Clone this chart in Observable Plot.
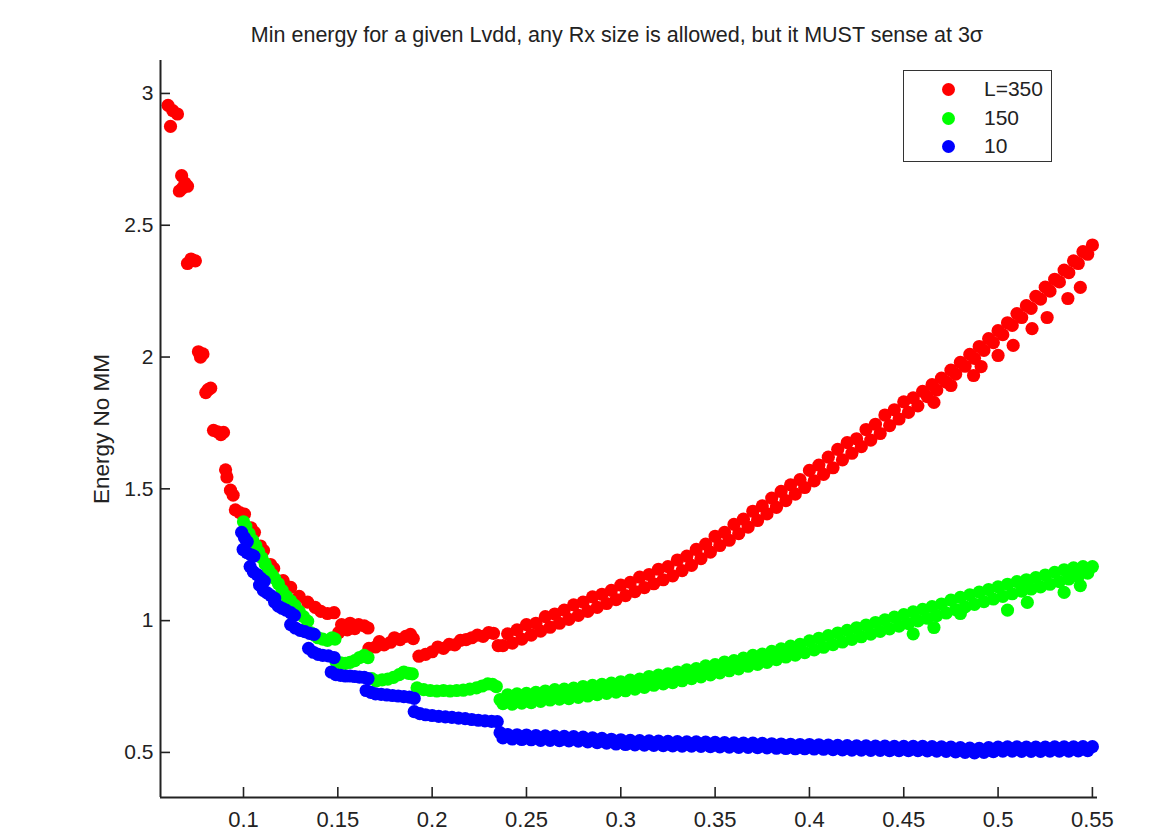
<!DOCTYPE html>
<html><head><meta charset="utf-8">
<script src="https://cdn.jsdelivr.net/npm/d3@7"></script>
<script src="https://cdn.jsdelivr.net/npm/@observablehq/plot@0.6"></script>
<style>
body{margin:0;background:#fff;}
#wrap{position:relative;width:1161px;height:832px;font-family:"Liberation Sans",Arial,sans-serif;color:#222;}
#legend{position:absolute;left:903px;top:70px;width:149px;height:92px;border:1.6px solid #333;background:#fff;box-sizing:border-box;}
.row{position:absolute;left:0;height:0;}
.dot{position:absolute;left:38px;top:-6.5px;width:13px;height:13px;border-radius:50%;}
.lab{position:absolute;left:80px;top:-13px;font-size:21px;line-height:26px;white-space:nowrap;}
</style>
</head><body>
<div id="wrap"><div id="chart"></div><div id="legend"></div></div>
<script>
const titleText = "Min energy for a given Lvdd, any Rx size is allowed, but it MUST sense at 3σ";
const yLabel = "Energy No MM";
const xTicks = [0.1,0.15,0.2,0.25,0.3,0.35,0.4,0.45,0.5,0.55];
const yTicks = [0.5,1,1.5,2,2.5,3];
const legendLabels = ["L=350","150","10"];
const seriesColors = ["#ff0000","#00ff00","#0000ff"];

const l350 = [
[0.0600,2.955],[0.0625,2.935],[0.0650,2.922],[0.0613,2.875],
[0.0672,2.688],[0.0690,2.66],[0.0703,2.648],[0.0660,2.63],[0.0675,2.64],
[0.0703,2.355],[0.0722,2.372],[0.0745,2.365],
[0.0761,2.02],[0.0772,2.0],[0.0785,2.012],
[0.0800,1.865],[0.0812,1.876],[0.0826,1.882],
[0.0841,1.722],[0.0862,1.716],[0.0880,1.706],[0.0894,1.714],
[0.0905,1.572],[0.0912,1.545],
[0.0931,1.495],[0.0945,1.476],
[0.0957,1.42],[0.0980,1.41],[0.1005,1.404],
[0.1040,1.352],[0.1058,1.335],[0.1090,1.283],[0.1106,1.266],[0.1143,1.213],[0.1160,1.198],[0.1210,1.152],[0.1250,1.126],[0.1295,1.092],[0.1340,1.07],[0.1380,1.05],[0.1410,1.035],[0.1445,1.027],[0.1480,1.03],
[0.1505,0.955],[0.1520,0.985],[0.1550,0.965],[0.1565,0.99],[0.1590,0.97],[0.1610,0.985],[0.1640,0.98],[0.1660,0.972],
[0.1665,0.895],[0.1700,0.9],[0.1720,0.92],[0.1745,0.908],[0.1780,0.918],[0.1800,0.935],[0.1830,0.928],[0.1860,0.94],[0.1885,0.948],[0.1900,0.932],
[0.1930,0.865],[0.1965,0.872],[0.2000,0.882],[0.2030,0.9],[0.2060,0.895],[0.2090,0.91],[0.2120,0.908],[0.2150,0.925],[0.2180,0.928],[0.2210,0.935],[0.2240,0.945],[0.2270,0.94],[0.2300,0.955],[0.2325,0.952],
[0.240,0.95],[0.245,0.965],[0.250,0.985],[0.255,0.99],[0.260,1.015],[0.265,1.025],[0.270,1.04],[0.275,1.06],[0.280,1.07],[0.285,1.09],[0.290,1.10],[0.295,1.115],[0.300,1.135],[0.305,1.145],[0.310,1.165],[0.315,1.175],[0.320,1.195],[0.325,1.205],[0.330,1.23],[0.335,1.245],[0.340,1.27],[0.345,1.29],[0.350,1.32],[0.355,1.335],[0.360,1.365],[0.365,1.385],[0.370,1.415],[0.375,1.435],[0.380,1.465],[0.385,1.49],[0.390,1.515],[0.395,1.535],[0.400,1.57],[0.405,1.59],[0.410,1.62],[0.415,1.65],[0.420,1.675],[0.425,1.69],[0.430,1.725],[0.435,1.745],[0.440,1.78],[0.445,1.80],[0.450,1.83],[0.455,1.845],[0.460,1.87],[0.465,1.895],[0.470,1.92],[0.475,1.95],[0.480,1.98],[0.485,2.01],[0.490,2.04],[0.495,2.07],[0.500,2.10],[0.505,2.13],[0.510,2.165],[0.515,2.195],[0.520,2.23],[0.525,2.265],[0.530,2.295],[0.535,2.33],[0.540,2.365],[0.545,2.40],[0.550,2.425],
[0.235,0.905],[0.2375,0.905],[0.2425,0.915],[0.2475,0.93],[0.2525,0.945],[0.2575,0.96],[0.2625,0.975],[0.2675,0.99],[0.2725,1.005],[0.2775,1.02],[0.2825,1.035],[0.2875,1.05],[0.2925,1.065],[0.2975,1.08],[0.3025,1.095],[0.3075,1.11],[0.3125,1.125],[0.3175,1.14],[0.3225,1.155],[0.3275,1.17],[0.3325,1.19],[0.3375,1.21],[0.3425,1.235],[0.3475,1.26],[0.3525,1.285],[0.3575,1.305],[0.3625,1.33],[0.3675,1.355],[0.3725,1.38],[0.3775,1.405],[0.3825,1.43],[0.3875,1.455],[0.3925,1.48],[0.3975,1.505],[0.4025,1.53],[0.4075,1.555],[0.4125,1.58],[0.4175,1.61],[0.4225,1.635],[0.4275,1.66],[0.4325,1.685],[0.4375,1.71],[0.4425,1.74],[0.4475,1.765],[0.4525,1.79],[0.4575,1.815],[0.4625,1.85],[0.4675,1.875],[0.4725,1.905],[0.4775,1.935],[0.4825,1.965],[0.4875,1.995],[0.4925,2.025],[0.4975,2.055],[0.5025,2.085],[0.5075,2.12],[0.5125,2.15],[0.5175,2.185],[0.5225,2.22],[0.5275,2.25],[0.5325,2.285],[0.5375,2.32],[0.5425,2.355],[0.5475,2.39],
[0.466,1.828],[0.475,1.892],[0.487,1.93],[0.491,1.964],[0.500,2.006],[0.508,2.044],[0.518,2.108],[0.526,2.15],[0.537,2.222],[0.5436,2.264]
];

const l150 = [
[0.1000,1.375],[0.1012,1.358],[0.1030,1.33],[0.1048,1.305],[0.1065,1.285],[0.1080,1.262],[0.1098,1.238],[0.1115,1.215],[0.1133,1.192],[0.1150,1.175],[0.1165,1.16],[0.1185,1.14],[0.1205,1.115],[0.1228,1.092],[0.1250,1.075],[0.1272,1.058],[0.1295,1.035],[0.1318,1.015],[0.1340,0.998],
[0.1355,0.955],[0.1375,0.945],[0.1395,0.935],[0.1420,0.93],[0.1445,0.925],[0.1470,0.935],[0.1485,0.93],
[0.1490,0.845],[0.1515,0.84],[0.1540,0.838],[0.1565,0.842],[0.1590,0.848],[0.1615,0.86],[0.1640,0.868],[0.1660,0.86],
[0.1680,0.78],[0.1705,0.772],[0.1735,0.775],[0.1765,0.778],[0.1795,0.785],[0.1825,0.795],[0.1850,0.805],[0.1875,0.80],[0.1895,0.798],
[0.1920,0.745],[0.1955,0.738],[0.1990,0.735],[0.2025,0.733],[0.2060,0.735],[0.2095,0.733],[0.2130,0.735],[0.2165,0.736],[0.2200,0.74],[0.2235,0.745],[0.2265,0.752],[0.2295,0.76],[0.2320,0.758],[0.2340,0.75],
[0.240,0.718],[0.245,0.722],[0.250,0.724],[0.255,0.728],[0.260,0.733],[0.265,0.738],[0.270,0.74],[0.275,0.744],[0.280,0.75],[0.285,0.754],[0.290,0.758],[0.295,0.763],[0.300,0.768],[0.305,0.774],[0.310,0.778],[0.315,0.788],[0.320,0.793],[0.325,0.798],[0.330,0.805],[0.335,0.813],[0.340,0.818],[0.345,0.828],[0.350,0.833],[0.355,0.843],[0.360,0.848],[0.365,0.858],[0.370,0.868],[0.375,0.873],[0.380,0.883],[0.385,0.893],[0.390,0.903],[0.395,0.91],[0.400,0.923],[0.405,0.933],[0.410,0.943],[0.415,0.953],[0.420,0.963],[0.425,0.973],[0.430,0.983],[0.435,0.993],[0.440,1.003],[0.445,1.013],[0.450,1.023],[0.455,1.033],[0.460,1.043],[0.465,1.053],[0.470,1.063],[0.475,1.078],[0.480,1.088],[0.485,1.098],[0.490,1.108],[0.495,1.118],[0.500,1.128],[0.505,1.138],[0.510,1.148],[0.515,1.155],[0.520,1.163],[0.525,1.173],[0.530,1.183],[0.535,1.193],[0.540,1.2],[0.545,1.205],[0.550,1.205],
[0.236,0.70],[0.2375,0.685],[0.2425,0.683],[0.2475,0.687],[0.2525,0.689],[0.2575,0.694],[0.2625,0.699],[0.2675,0.702],[0.2725,0.704],[0.2775,0.709],[0.2825,0.714],[0.2875,0.719],[0.2925,0.724],[0.2975,0.729],[0.3025,0.734],[0.3075,0.74],[0.3125,0.747],[0.3175,0.755],[0.3225,0.76],[0.3275,0.765],[0.3325,0.772],[0.3375,0.78],[0.3425,0.787],[0.3475,0.794],[0.3525,0.802],[0.3575,0.81],[0.3625,0.817],[0.3675,0.827],[0.3725,0.834],[0.3775,0.842],[0.3825,0.852],[0.3875,0.862],[0.3925,0.869],[0.3975,0.879],[0.4025,0.889],[0.4075,0.899],[0.4125,0.909],[0.4175,0.919],[0.4225,0.929],[0.4275,0.939],[0.4325,0.949],[0.4375,0.959],[0.4425,0.969],[0.4475,0.979],[0.4525,0.989],[0.4575,0.999],[0.4625,1.009],[0.4675,1.019],[0.4725,1.029],[0.4775,1.042],[0.4825,1.052],[0.4875,1.062],[0.4925,1.072],[0.4975,1.082],[0.5025,1.092],[0.5075,1.102],[0.5125,1.112],[0.5175,1.12],[0.5225,1.128],[0.5275,1.138],[0.5325,1.148],[0.5375,1.158],[0.5425,1.168],[0.5475,1.18],
[0.455,0.95],[0.466,0.974],[0.480,1.027],[0.505,1.04],[0.5155,1.069],[0.535,1.107],[0.5436,1.133]
];

const l10 = [
[0.0990,1.335],[0.1005,1.315],[0.1020,1.30],[0.0998,1.27],[0.1018,1.258],[0.1040,1.25],[0.1055,1.245],
[0.1035,1.205],[0.1052,1.185],[0.1072,1.175],[0.1092,1.16],[0.1110,1.15],
[0.1085,1.135],[0.1105,1.115],[0.1125,1.105],[0.1145,1.095],[0.1165,1.085],
[0.1165,1.07],[0.1185,1.055],[0.1205,1.047],[0.1225,1.04],[0.1250,1.03],[0.1270,1.02],
[0.1250,0.985],[0.1275,0.972],[0.1300,0.963],[0.1325,0.958],[0.1350,0.952],[0.1375,0.948],
[0.1345,0.895],[0.1370,0.88],[0.1395,0.872],[0.1420,0.868],[0.1450,0.866],[0.1480,0.86],
[0.1465,0.805],[0.1490,0.795],[0.1515,0.792],[0.1540,0.79],[0.1565,0.79],[0.1590,0.788],[0.1615,0.786],[0.1640,0.785],[0.1660,0.78],
[0.1650,0.735],[0.1675,0.728],[0.1700,0.722],[0.1730,0.72],[0.1760,0.718],[0.1790,0.716],[0.1820,0.714],[0.1850,0.712],[0.1880,0.71],[0.1905,0.705],
[0.1905,0.655],[0.1935,0.647],[0.1965,0.643],[0.2000,0.64],[0.2035,0.637],[0.2070,0.635],[0.2105,0.633],[0.2140,0.63],[0.2175,0.628],[0.2210,0.625],[0.2245,0.622],[0.2280,0.62],[0.2315,0.618],[0.2345,0.617],
[0.236,0.575],[0.240,0.568],[0.245,0.567],[0.250,0.566],[0.255,0.564],[0.260,0.563],[0.265,0.562],[0.270,0.561],[0.275,0.56],[0.280,0.558],[0.285,0.555],[0.290,0.553],[0.295,0.55],[0.300,0.548],[0.305,0.546],[0.310,0.545],[0.315,0.544],[0.320,0.543],[0.325,0.542],[0.330,0.541],[0.335,0.54],[0.340,0.54],[0.345,0.539],[0.350,0.538],[0.355,0.537],[0.360,0.536],[0.365,0.535],[0.370,0.535],[0.375,0.534],[0.380,0.533],[0.385,0.532],[0.390,0.531],[0.395,0.53],[0.400,0.53],[0.405,0.529],[0.410,0.528],[0.415,0.527],[0.420,0.526],[0.425,0.525],[0.430,0.525],[0.435,0.524],[0.440,0.524],[0.445,0.523],[0.450,0.523],[0.455,0.523],[0.460,0.523],[0.465,0.522],[0.470,0.521],[0.475,0.52],[0.480,0.518],[0.485,0.516],[0.490,0.515],[0.495,0.518],[0.500,0.52],[0.505,0.521],[0.510,0.521],[0.515,0.52],[0.520,0.52],[0.525,0.52],[0.530,0.521],[0.535,0.521],[0.540,0.521],[0.545,0.522],[0.550,0.522],
[0.2375,0.555],[0.2425,0.551],[0.2475,0.549],[0.2525,0.548],[0.2575,0.546],[0.2625,0.546],[0.2675,0.545],[0.2725,0.544],[0.2775,0.543],[0.2825,0.54],[0.2875,0.537],[0.2925,0.535],[0.2975,0.532],[0.3025,0.53],[0.3075,0.529],[0.3125,0.528],[0.3175,0.527],[0.3225,0.526],[0.3275,0.525],[0.3325,0.524],[0.3375,0.524],[0.3425,0.523],[0.3475,0.522],[0.3525,0.521],[0.3575,0.52],[0.3625,0.519],[0.3675,0.519],[0.3725,0.518],[0.3775,0.517],[0.3825,0.516],[0.3875,0.515],[0.3925,0.514],[0.3975,0.514],[0.4025,0.513],[0.4075,0.512],[0.4125,0.511],[0.4175,0.51],[0.4225,0.509],[0.4275,0.509],[0.4325,0.508],[0.4375,0.508],[0.4425,0.507],[0.4475,0.507],[0.4525,0.507],[0.4575,0.507],[0.4625,0.506],[0.4675,0.505],[0.4725,0.504],[0.4775,0.502],[0.4825,0.5],[0.4875,0.498],[0.4925,0.5],[0.4975,0.503],[0.5025,0.505],[0.5075,0.505],[0.5125,0.504],[0.5175,0.504],[0.5225,0.504],[0.5275,0.505],[0.5325,0.505],[0.5375,0.505],[0.5425,0.506],[0.5475,0.507]
];

const seriesPoints = [l350, l150, l10];

const W = 1161, H = 832;
const mTop = 60, mRight = 64, mBottom = 35, mLeft = 160;
const frameW = W - mLeft - mRight, frameH = H - mTop - mBottom;
const xDomain = [0.056, 0.5527];
const yDomain = [0.329, 3.125];
const ink = "#222";

const dotMarks = seriesPoints.map((pts, i) =>
  Plot.dot(pts, {x: d => d[0], y: d => d[1], r: 6.6, fill: seriesColors[i], stroke: "none"})
);

const chart = Plot.plot({
  width: W, height: H,
  marginTop: mTop, marginRight: mRight, marginBottom: mBottom, marginLeft: mLeft,
  x: {domain: xDomain},
  y: {domain: yDomain},
  style: {fontFamily: '"Liberation Sans", Arial, sans-serif', fontSize: "21px", background: "#fff", color: ink},
  marks: [
    ...dotMarks,
    Plot.ruleX([xDomain[0]], {stroke: ink, strokeWidth: 2}),
    Plot.ruleY([yDomain[0]], {stroke: ink, strokeWidth: 2}),
    Plot.ruleX(xTicks, {x: d => d, stroke: ink, strokeWidth: 1.6, insetTop: frameH - 10}),
    Plot.ruleY(yTicks, {y: d => d, stroke: ink, strokeWidth: 1.6, insetRight: frameW - 10}),
    Plot.axisX({ticks: xTicks, tickSize: 0, tickPadding: 14, tickFormat: d => String(d), label: null, fill: ink, fontSize: 22}),
    Plot.axisY({ticks: yTicks, tickSize: 0, tickPadding: 7, tickFormat: d => String(d), label: null, fill: ink, fontSize: 21}),
    Plot.text([yLabel], {text: d => d, frameAnchor: "left", textAnchor: "middle", dx: -59, rotate: -90, fontSize: 22.5, fill: ink}),
    Plot.text([titleText], {text: d => d, frameAnchor: "top", textAnchor: "middle", dx: -12, dy: -34, fontSize: 21.5, fill: ink})
  ]
});
document.getElementById("chart").appendChild(chart);

const legend = document.getElementById("legend");
const rowTops = [18, 47, 75];
legendLabels.forEach((lab, i) => {
  const row = document.createElement("div");
  row.className = "row";
  row.style.top = rowTops[i] + "px";
  const dot = document.createElement("span");
  dot.className = "dot";
  dot.style.background = seriesColors[i];
  const t = document.createElement("span");
  t.className = "lab";
  t.textContent = lab;
  row.appendChild(dot); row.appendChild(t);
  legend.appendChild(row);
});
</script>
</body></html>
